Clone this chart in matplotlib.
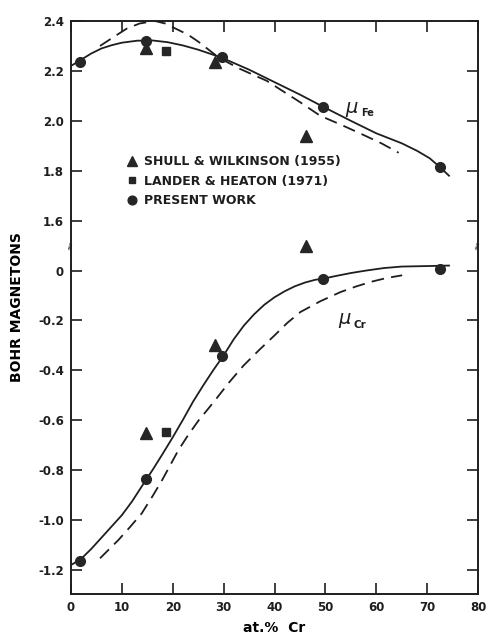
import matplotlib.pyplot as plt

# composition, at.% Cr
shull_x = [14.8, 28.4, 46.1]
shull_fe = [2.29, 2.235, 1.94]
shull_cr = [-0.65, -0.30, 0.10]

lander_x = [18.6]
lander_fe = [2.28]
lander_cr = [-0.645]

present_x = [1.8, 14.7, 29.7, 49.6, 72.6]
present_fe = [2.237, 2.318, 2.254, 2.057, 1.813]
present_cr = [-1.163, -0.837, -0.341, -0.035, 0.005]

# curves
fe_fit_x = [0, 2, 4, 6, 8, 10, 13, 16, 19, 22, 25, 29.5, 35, 40, 45, 49.5, 55, 60, 65, 68, 70.5, 72.6, 74.3]
fe_fit = [2.22, 2.245, 2.27, 2.29, 2.303, 2.313, 2.321, 2.322, 2.315, 2.302, 2.285, 2.254, 2.205, 2.155, 2.105,
          2.057, 2.0, 1.95, 1.91, 1.88, 1.85, 1.813, 1.78]
fe_calc_x = [5.7, 8.7, 11, 13.5, 16.5, 18.5, 20.5, 23, 25.1, 29, 33, 38.5, 45, 49, 53, 57, 61, 64.4]
fe_calc = [2.30, 2.34, 2.37, 2.39, 2.40, 2.39, 2.37, 2.345, 2.316, 2.254, 2.21, 2.16, 2.075, 2.02, 1.985, 1.948,
           1.91, 1.872]

cr_fit_x = [0, 2, 4, 6, 8, 10, 12, 14, 16, 18, 20, 22, 24, 26, 28, 29.9, 32, 34, 36, 38, 40, 42, 44, 46, 48,
            49.7, 52, 55, 58, 61.5, 65, 70, 74.3]
cr_fit = [-1.18, -1.155, -1.115, -1.07, -1.025, -0.98, -0.925, -0.862, -0.80, -0.735, -0.668, -0.598, -0.525,
          -0.46, -0.398, -0.343, -0.275, -0.22, -0.175, -0.137, -0.107, -0.083, -0.063, -0.048, -0.037,
          -0.032, -0.022, -0.01, 0.0, 0.01, 0.016, 0.018, 0.02]
cr_calc_x = [5.7, 9.3, 11.5, 13.9, 16, 17.9, 19.5, 21.1, 23, 25.1, 27, 28.7, 31, 33.9, 37, 40, 42.5, 45.1, 49,
             53, 56, 59, 62, 65.1]
cr_calc = [-1.153, -1.08, -1.03, -0.973, -0.905, -0.84, -0.78, -0.72, -0.66, -0.6, -0.553, -0.51, -0.45,
           -0.381, -0.318, -0.26, -0.21, -0.166, -0.123, -0.086, -0.064, -0.045, -0.03, -0.019]

fe_ticks = [2.4, 2.2, 2.0, 1.8, 1.6]
cr_ticks = [0, -0.2, -0.4, -0.6, -0.8, -1.0, -1.2]
x_ticks = [0, 10, 20, 30, 40, 50, 60, 70, 80]

# broken axis: the Fe scale sits 1.4 above the Cr scale
shift = 1.4


def fe(v):
    return [a - shift for a in v]


ink = '#1e1e1e'
mk = '#262626'
plt.rcParams['font.family'] = 'DejaVu Sans'
fig = plt.figure(figsize=(4.88, 6.34), dpi=100)
ax = fig.add_axes([0.1455, 0.0631, 0.834, 0.9038])

ax.plot(fe_fit_x, fe(fe_fit), color=ink, lw=1.3)
ax.plot(fe_calc_x, fe(fe_calc), color=ink, lw=1.3, dashes=(7, 4))
ax.plot(cr_fit_x, cr_fit, color=ink, lw=1.3)
ax.plot(cr_calc_x, cr_calc, color=ink, lw=1.3, dashes=(7, 4))

ax.plot(shull_x, fe(shull_fe), '^', color=mk, ms=8.5, ls='None', label='SHULL & WILKINSON (1955)')
ax.plot(shull_x, shull_cr, '^', color=mk, ms=8.5, ls='None')
ax.plot(lander_x, fe(lander_fe), 's', color=mk, ms=5.5, ls='None', label='LANDER & HEATON (1971)')
ax.plot(lander_x, lander_cr, 's', color=mk, ms=5.5, ls='None')
ax.plot(present_x, fe(present_fe), 'o', color=mk, ms=7, ls='None', label='PRESENT WORK')
ax.plot(present_x, present_cr, 'o', color=mk, ms=7, ls='None')

ax.set_xlim(0, 80)
ax.set_ylim(-1.296, 1.0)
ax.set_xticks(x_ticks)
ax.set_xticklabels([str(t) for t in x_ticks], fontsize=8.5, fontweight='bold')
yt = fe(fe_ticks) + cr_ticks
ax.set_yticks(yt)
ax.set_yticklabels(['%.1f' % t for t in fe_ticks] + ['0'] + ['%.1f' % t for t in cr_ticks[1:]],
                   fontsize=8.5, fontweight='bold')
ax.tick_params(direction='in', length=8, width=1.2, top=True, right=True, colors=ink, pad=5)
for s in ax.spines.values():
    s.set_linewidth(1.4)
    s.set_color(ink)

ax.set_xlabel('at.%  Cr', fontsize=10, fontweight='bold', labelpad=5)
ax.set_ylabel('BOHR MAGNETONS', fontsize=10, fontweight='bold', labelpad=10)

ax.text(53.8, 2.047 - shift, r'$\mu$', fontsize=14, ha='left', va='center', color=ink)
ax.text(57.0, 2.03 - shift, 'Fe', fontsize=7, fontweight='bold', ha='left', va='center', color=ink)
ax.text(52.4, -0.2, r'$\mu$', fontsize=14, ha='left', va='center', color=ink)
ax.text(55.6, -0.22, 'Cr', fontsize=7.5, fontweight='bold', ha='left', va='center', color=ink)

# axis break marks
for xb in [0, 1]:
    ax.text(xb, 0.1, '≈', transform=ax.get_yaxis_transform(), rotation=80, fontsize=8,
            ha='center', va='center', color=ink)

leg = ax.legend(loc='upper left', bbox_to_anchor=(0.105, 0.785), frameon=False,
                prop={'size': 9, 'weight': 'bold'},
                handletextpad=0.35, labelspacing=0.5, handlelength=1.2, markerscale=0.9)
for t in leg.get_texts():
    t.set_color(ink)

fig.savefig('out.png', dpi=100)
